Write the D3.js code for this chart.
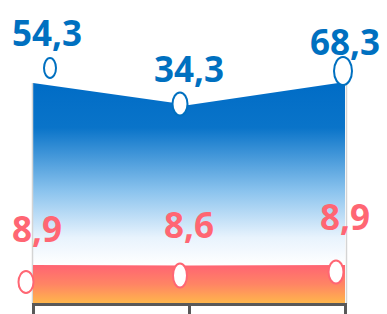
<!DOCTYPE html>
<html>
<head>
<meta charset="utf-8">
<script src="https://cdn.jsdelivr.net/npm/d3@7"></script>
<style>
  html, body { margin: 0; padding: 0; background: #ffffff; }
  svg { display: block; }
</style>
</head>
<body>
<svg id="chart" width="387" height="314"></svg>
<script>
// Data
const categories = ["A", "B", "C"];
const blueValues = [54.3, 34.3, 68.3];
const redValues = [8.9, 8.6, 8.9];

// Marker / label nudges relative to each point (layout only)
const blueNudge = [{dx: 17, dy: -15, rx: 6, ry: 10, ly: -37}, {dx: -9, dy: -1, rx: 7.5, ry: 11.5, ly: -23}, {dx: -2, dy: -11, rx: 9, ry: 14, ly: -27}];
const redNudge = [{dx: -7, dy: 17, rx: 7.5, ry: 11, ly: -23}, {dx: -9, dy: 10, rx: 7, ry: 12, ly: -28}, {dx: -9, dy: 7, rx: 7.5, ry: 11.5, ly: -35}];

const svg = d3.select("#chart");
const W = 387, baseY = 304;

const x = d3.scalePoint()
    .domain(categories)
    .range([33, 345]);

// the picture's vertical scale is not linear, so map the shown values piecewise
const y = d3.scaleLinear()
    .domain([0, 8.6, 8.9, 34.3, 54.3, 68.3])
    .range([baseY, 265.5, 265, 105, 83, 82]);

const defs = svg.append("defs");
const blueGrad = defs.append("linearGradient")
    .attr("id", "blueGrad")
    .attr("gradientUnits", "userSpaceOnUse")
    .attr("x1", 0).attr("x2", 0).attr("y1", 82).attr("y2", 265);
[[0, "#006cc6"], [0.25, "#0a74c9"], [0.6, "#8cc4ee"], [0.85, "#e8f3fd"], [1, "#ffffff"]]
    .forEach(s => blueGrad.append("stop").attr("offset", s[0]).attr("stop-color", s[1]));

const redGrad = defs.append("linearGradient")
    .attr("id", "redGrad")
    .attr("gradientUnits", "userSpaceOnUse")
    .attr("x1", 0).attr("x2", 0).attr("y1", 265).attr("y2", baseY);
[[0, "#ff6473"], [0.5, "#ff8564"], [1, "#ffb84a"]]
    .forEach(s => redGrad.append("stop").attr("offset", s[0]).attr("stop-color", s[1]));

const area = d3.area()
    .x((d, i) => x(categories[i]))
    .y0(baseY)
    .y1(d => y(d));

// Blue series
svg.append("path")
    .datum(blueValues)
    .attr("d", area)
    .attr("fill", "url(#blueGrad)");

// light edge lines
svg.selectAll(".edge")
    .data([0, categories.length - 1])
    .enter().append("line")
    .attr("x1", i => x(categories[i]) + (i === 0 ? -0.5 : 1.5))
    .attr("x2", i => x(categories[i]) + (i === 0 ? -0.5 : 1.5))
    .attr("y1", i => y(blueValues[i]))
    .attr("y2", baseY)
    .attr("stroke", "#d4d4d4")
    .attr("stroke-width", 1.5);

// Red series
svg.append("path")
    .datum(redValues)
    .attr("d", area)
    .attr("fill", "url(#redGrad)");

// Axis
const axis = svg.append("g")
    .attr("transform", "translate(0," + baseY + ")")
    .call(d3.axisBottom(x).tickSize(10).tickSizeOuter(10).tickFormat(""));
axis.select(".domain").attr("stroke", "#595959").attr("stroke-width", 3).attr("fill", "none");
axis.selectAll(".tick line").attr("stroke", "#595959").attr("stroke-width", 3);

function drawSeries(values, nudge, color) {
    const g = svg.append("g");
    g.selectAll("ellipse")
        .data(values)
        .enter().append("ellipse")
        .attr("cx", (d, i) => x(categories[i]) + nudge[i].dx)
        .attr("cy", (d, i) => y(d) + nudge[i].dy)
        .attr("rx", (d, i) => nudge[i].rx)
        .attr("ry", (d, i) => nudge[i].ry)
        .attr("fill", "#ffffff")
        .attr("stroke", color)
        .attr("stroke-width", 2);

    g.selectAll("text")
        .data(values)
        .enter().append("text")
        .attr("x", function(d, i) { return x(categories[i]); })
        .attr("y", (d, i) => y(d) + nudge[i].ly)
        .attr("text-anchor", "middle")
        .attr("font-family", "'Open Sans', sans-serif")
        .attr("font-weight", 700)
        .attr("font-size", 35)
        .attr("fill", color)
        .text(d => d.toFixed(1).replace(".", ","))
        .each(function() {
            // keep the labels inside the picture
            const b = this.getBBox();
            const el = d3.select(this);
            const cx = +el.attr("x");
            if (b.x < 12) el.attr("x", cx + (12 - b.x));
            if (b.x + b.width > W - 4) el.attr("x", cx - (b.x + b.width - (W - 4)));
        });
}

drawSeries(blueValues, blueNudge, "#0070c0");
drawSeries(redValues, redNudge, "#ff6673");
</script>
</body>
</html>
